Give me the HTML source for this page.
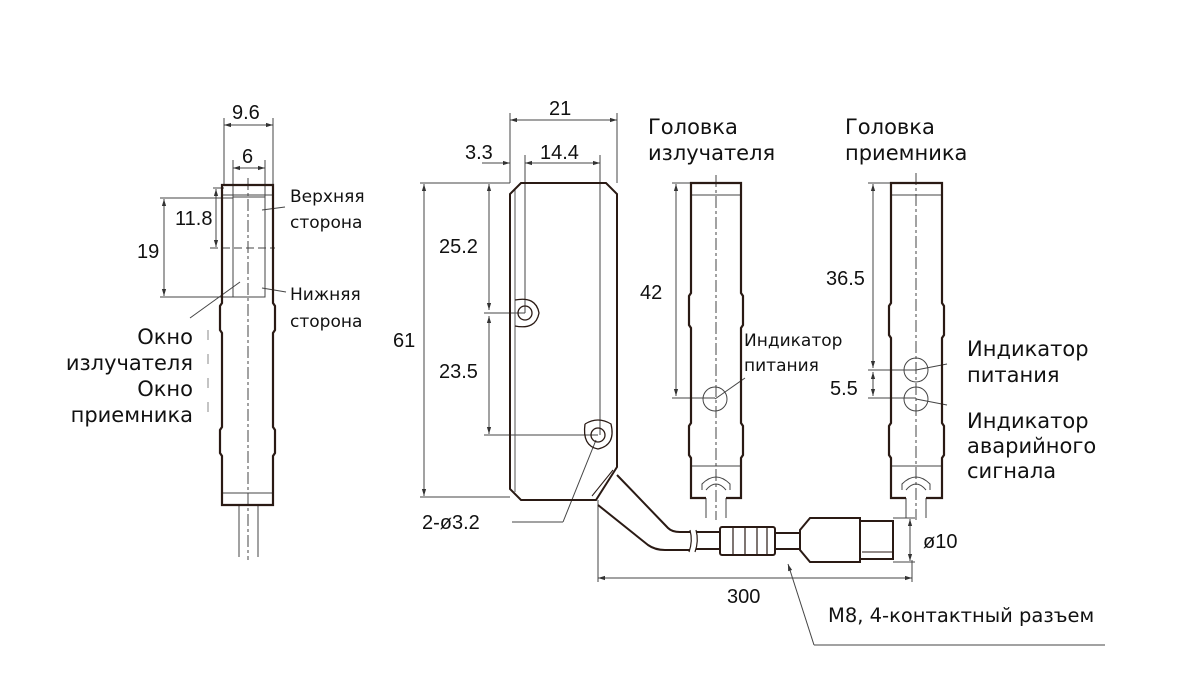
<!DOCTYPE html>
<html><head><meta charset="utf-8"><style>
html,body{margin:0;padding:0;background:#fff;}
svg{display:block;}
text{font-family:"Liberation Sans","DejaVu Sans",sans-serif;fill:#111;}
text.t{font-family:"DejaVu Sans","Liberation Sans",sans-serif;}
</style></head><body>
<svg width="1191" height="699" viewBox="0 0 1191 699" xmlns="http://www.w3.org/2000/svg">
<defs>
<marker id="a" viewBox="0 0 10 10" refX="10" refY="5" markerWidth="7" markerHeight="7" orient="auto-start-reverse"><path d="M0,2 L10,5 L0,8 z" fill="#333"/></marker>
</defs>
<g fill="none" stroke="#444" stroke-width="1">
<line x1="224" y1="118" x2="224" y2="185"/><line x1="273" y1="118" x2="273" y2="185"/>
<line x1="224" y1="125" x2="273" y2="125" marker-start="url(#a)" marker-end="url(#a)"/>
<line x1="233" y1="160" x2="233" y2="197"/><line x1="265" y1="160" x2="265" y2="197"/>
<line x1="233" y1="168" x2="265" y2="168" marker-start="url(#a)" marker-end="url(#a)"/>
<line x1="213" y1="188" x2="224" y2="188"/>
<line x1="216" y1="189" x2="216" y2="247" marker-start="url(#a)" marker-end="url(#a)"/>
<line x1="210" y1="248" x2="275" y2="248" stroke-dasharray="8 4"/>
<line x1="160" y1="198" x2="233" y2="198"/><line x1="160" y1="297" x2="233" y2="297"/>
<line x1="164" y1="199" x2="164" y2="296" marker-start="url(#a)" marker-end="url(#a)"/>
<rect x="233" y="197" width="32" height="100"/>
<line x1="248" y1="178" x2="248" y2="560" stroke-dasharray="12 3 3 3"/>
<line x1="262" y1="210" x2="285" y2="207"/>
<line x1="262" y1="288" x2="286" y2="292"/>
<line x1="190" y1="318" x2="240" y2="282"/>
<line x1="208" y1="330" x2="208" y2="420" stroke-dasharray="10 14" stroke="#888"/>
<line x1="222" y1="195" x2="273" y2="195"/><line x1="222" y1="493" x2="273" y2="493"/>
<line x1="239" y1="505" x2="239" y2="557"/><line x1="258" y1="505" x2="258" y2="557"/>
</g>
<g fill="none" stroke="#2a1a14" stroke-width="2.2">
<path d="M222,185 H273 V303 L275,306 V330 L273,333 V427 L275,430 V453 L273,456 V505 H222 V456 L220,453 V430 L222,427 V333 L220,330 V306 L222,303 Z"/>
</g>
<g fill="none" stroke="#444" stroke-width="1">
<line x1="510" y1="113" x2="510" y2="183"/><line x1="617" y1="113" x2="617" y2="183"/>
<line x1="510" y1="120" x2="617" y2="120" marker-start="url(#a)" marker-end="url(#a)"/>
<line x1="525" y1="155" x2="525" y2="313"/><line x1="600" y1="155" x2="600" y2="435"/>
<line x1="482" y1="163" x2="510" y2="163" marker-end="url(#a)"/>
<line x1="525" y1="163" x2="600" y2="163" marker-start="url(#a)" marker-end="url(#a)"/>
<line x1="420" y1="183" x2="510" y2="183"/><line x1="420" y1="497" x2="510" y2="497"/>
<line x1="424" y1="184" x2="424" y2="496" marker-start="url(#a)" marker-end="url(#a)"/>
<line x1="484" y1="313" x2="525" y2="313"/><line x1="484" y1="435" x2="598" y2="435"/>
<line x1="489" y1="184" x2="489" y2="310" marker-start="url(#a)" marker-end="url(#a)"/>
<line x1="489" y1="316" x2="489" y2="434" marker-start="url(#a)" marker-end="url(#a)"/>
<line x1="512" y1="522" x2="563" y2="522"/><line x1="563" y1="522" x2="596" y2="440"/>
<line x1="598" y1="500" x2="598" y2="582"/>
<line x1="598" y1="578" x2="912" y2="578" marker-start="url(#a)" marker-end="url(#a)"/>
<line x1="912" y1="560" x2="912" y2="582"/>
<line x1="893" y1="518" x2="915" y2="518"/><line x1="893" y1="562" x2="915" y2="562"/>
<line x1="910" y1="519" x2="910" y2="561" marker-start="url(#a)" marker-end="url(#a)"/>
<line x1="788" y1="564" x2="814" y2="645" marker-start="url(#a)"/>
<line x1="814" y1="645" x2="1105" y2="645"/>
<path d="M515,189 V492" stroke="#555"/>
</g>
<g fill="none" stroke="#2a1a14" stroke-width="2">
<path d="M521,183 H606 L617,194 V467 L596,500 H521 L510,489 V194 Z"/>
<circle cx="525" cy="313" r="7" stroke-width="1.3"/>
<path d="M515,300 Q536,296 539,313 Q536,330 515,326" stroke-width="1.3"/>
<circle cx="598" cy="435" r="7" stroke-width="1.3"/>
<path d="M585,424 Q598,416 611,424 Q616,445 598,449 Q582,446 585,424" stroke-width="1.3"/>
<path d="M613,470 L592,496" stroke-width="1"/>
<path d="M617,475 L668,528 Q672,532 680,532 H690"/>
<path d="M598,505 L648,545 Q655,550 665,550 H690"/>
<path d="M690,530 Q693,541 689,552 M696,530 Q699,541 695,552" stroke-width="1.2"/>
<path d="M696,532 H720 M696,549 H720"/>
<rect x="720" y="527" width="55" height="28" rx="2"/>
<path d="M733,527 V555 M745,527 V555 M757,527 V555 M767,527 V555" stroke-width="1.2"/>
<path d="M775,533 H800 M775,549 H800"/>
<path d="M800,530 L810,518 H860 V562 H810 L800,550 Z"/>
<path d="M860,521 H893 V559 H860"/>
<path d="M862,552 H892" stroke-width="1"/>
</g>
<g fill="none" stroke="#444" stroke-width="1">
<line x1="672" y1="183" x2="691" y2="183"/><line x1="672" y1="398" x2="715" y2="398"/>
<line x1="676" y1="184" x2="676" y2="396" marker-start="url(#a)" marker-end="url(#a)"/>
<line x1="716" y1="175" x2="716" y2="520" stroke-dasharray="12 3 3 3"/>
<circle cx="715" cy="399" r="12"/>
<line x1="715" y1="399" x2="745" y2="378"/>
<line x1="691" y1="195" x2="741" y2="195"/><line x1="691" y1="466" x2="741" y2="466"/>
<path d="M702,490 V484 Q716,470 730,484 V490 M706,490 Q716,478 726,490"/>
<line x1="706" y1="498" x2="706" y2="518"/><line x1="726" y1="498" x2="726" y2="518"/>
</g>
<g fill="none" stroke="#2a1a14" stroke-width="2.2">
<path d="M706,498 H691 V458 L689,455 V426 L691,423 V328 L689,325 V296 L691,293 V183 H741 V293 L743,296 V325 L741,328 V423 L743,426 V455 L741,458 V498 H726"/>
</g>
<g fill="none" stroke="#444" stroke-width="1">
<line x1="868" y1="183" x2="890" y2="183"/>
<line x1="868" y1="370" x2="916" y2="370"/><line x1="868" y1="398" x2="916" y2="398"/>
<line x1="873" y1="184" x2="873" y2="368" marker-start="url(#a)" marker-end="url(#a)"/>
<line x1="873" y1="372" x2="873" y2="396" marker-start="url(#a)" marker-end="url(#a)"/>
<line x1="916" y1="173" x2="916" y2="520" stroke-dasharray="12 3 3 3"/>
<circle cx="916" cy="370" r="12"/><circle cx="916" cy="399" r="12"/>
<line x1="916" y1="370" x2="947" y2="364"/><line x1="916" y1="399" x2="947" y2="405"/>
<line x1="891" y1="195" x2="942" y2="195"/><line x1="891" y1="466" x2="942" y2="466"/>
<path d="M902,490 V484 Q916,470 930,484 V490 M906,490 Q916,478 926,490"/>
<line x1="906" y1="498" x2="906" y2="518"/><line x1="926" y1="498" x2="926" y2="518"/>
</g>
<g fill="none" stroke="#2a1a14" stroke-width="2.2">
<path d="M906,498 H891 V458 L889,455 V426 L891,423 V338 L889,335 V306 L891,303 V183 H942 V303 L944,306 V335 L942,338 V423 L944,426 V455 L942,458 V498 H926"/>
</g>
<g font-size="20">
<text x="232" y="119">9.6</text>
<text x="242" y="163">6</text>
<text x="175" y="225">11.8</text>
<text x="137" y="258">19</text>
<text x="549" y="115">21</text>
<text x="465" y="159">3.3</text>
<text x="540" y="159">14.4</text>
<text x="393" y="347">61</text>
<text x="439" y="253">25.2</text>
<text x="439" y="378">23.5</text>
<text x="640" y="299">42</text>
<text x="826" y="285">36.5</text>
<text x="830" y="395">5.5</text>
<text x="422" y="529">2-ø3.2</text>
<text x="923" y="548">ø10</text>
<text x="727" y="603">300</text>
</g>
<text class="t" x="290" y="202" font-size="17">Верхняя</text>
<text class="t" x="290" y="228" font-size="17">сторона</text>
<text class="t" x="290" y="300" font-size="17">Нижняя</text>
<text class="t" x="290" y="327" font-size="17">сторона</text>
<g font-size="21" text-anchor="end">
<text class="t" x="193" y="344">Окно</text><text class="t" x="193" y="370">излучателя</text>
<text class="t" x="193" y="396">Окно</text><text class="t" x="193" y="422">приемника</text>
</g>
<g font-size="21">
<text class="t" x="648" y="134">Головка</text><text class="t" x="648" y="160">излучателя</text>
<text class="t" x="845" y="134">Головка</text><text class="t" x="845" y="160">приемника</text>
<text class="t" x="967" y="356">Индикатор</text><text class="t" x="967" y="382">питания</text>
<text class="t" x="967" y="428">Индикатор</text><text class="t" x="967" y="453">аварийного</text><text class="t" x="967" y="478">сигнала</text>
</g>
<text class="t" x="744" y="346" font-size="17">Индикатор</text>
<text class="t" x="744" y="371" font-size="17">питания</text>
<text class="t" x="828" y="622" font-size="19.5">M8, 4-контактный разъем</text>
</svg>
</body></html>
